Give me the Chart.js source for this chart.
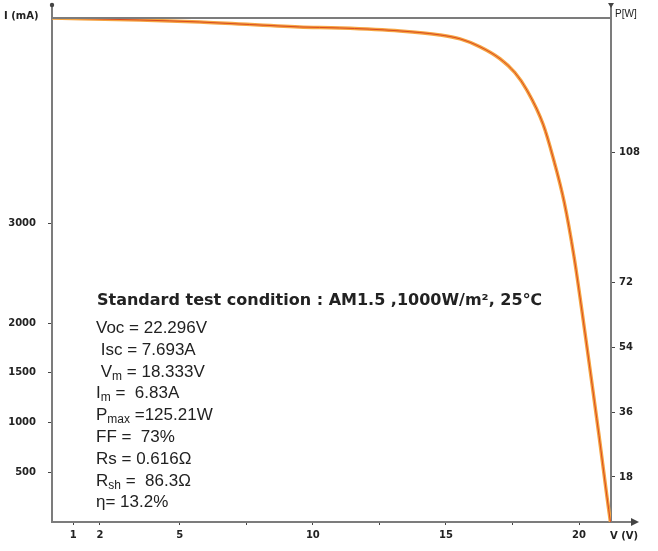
<!DOCTYPE html>
<html>
<head>
<meta charset="utf-8">
<script src="https://cdn.jsdelivr.net/npm/chart.js@4.4.1/dist/chart.umd.min.js"></script>
<style>
  html, body { margin: 0; padding: 0; background: #fff; }
  #wrap { width: 658px; height: 551px; }
</style>
</head>
<body>
<div id="wrap"><canvas id="ivChart" width="658" height="551"></canvas></div>
<script>
// I-V curve (voltage in V, current in mA)
const voltage = [0.2, 3.5, 5.75, 9.5, 11.0, 13.27, 14.77, 15.53, 16.28, 17.03, 17.59, 18.05, 18.65, 19.02, 19.44, 19.81, 20.11, 20.41, 20.75, 21.05, 21.18];
const current = [5070, 5050, 5030, 4980, 4970, 4940, 4900, 4860, 4780, 4660, 4520, 4340, 4000, 3670, 3220, 2670, 2120, 1540, 870, 250, 0];

const vTicks = [1, 2, 5, 7.5, 10, 12.5, 15, 17.5, 20];
const vLabels = ['1', '2', '5', '', '10', '', '15', '', '20'];
const iTicks = [500, 1000, 1500, 2000, 3000];
const pTicks = [18, 36, 54, 72, 108];

const specLines = [
  [['Voc = 22.296V']],
  [[' Isc = 7.693A']],
  [[' V'], ['m', 1], [' = 18.333V']],
  [['I'], ['m', 1], [' =  6.83A']],
  [['P'], ['max', 1], [' =125.21W']],
  [['FF =  73%']],
  [['Rs = 0.616Ω']],
  [['R'], ['sh', 1], [' =  86.3Ω']],
  [['η= 13.2%']]
];
const title = 'Standard test condition : AM1.5 ,1000W/m², 25℃';

const axisGray = '#7c7c7c';
const tickFont = { family: 'DejaVu Sans', size: 10, weight: 'bold' };

const decorPlugin = {
  id: 'decor',
  afterDraw(chart) {
    const { ctx, chartArea: a } = chart;
    ctx.save();
    ctx.strokeStyle = axisGray;
    ctx.fillStyle = axisGray;
    ctx.lineWidth = 2;
    // top frame line
    ctx.beginPath();
    ctx.moveTo(a.left, a.top); ctx.lineTo(a.right, a.top);
    // axis extensions
    ctx.moveTo(a.left, a.top); ctx.lineTo(a.left, 6);
    ctx.moveTo(a.right, a.top); ctx.lineTo(a.right, 6);
    ctx.moveTo(a.right, a.bottom); ctx.lineTo(632, a.bottom);
    ctx.stroke();
    ctx.fillStyle = '#444';
    ctx.beginPath(); ctx.arc(a.left, 5, 2.2, 0, Math.PI * 2); ctx.fill();
    ctx.beginPath();
    ctx.moveTo(a.right - 3, 3); ctx.lineTo(a.right + 3, 3); ctx.lineTo(a.right, 8); ctx.closePath(); ctx.fill();
    ctx.beginPath();
    ctx.moveTo(639, a.bottom); ctx.lineTo(631, a.bottom - 4); ctx.lineTo(631, a.bottom + 4); ctx.closePath(); ctx.fill();

    // axis names
    ctx.fillStyle = '#222';
    ctx.font = 'bold 10px "DejaVu Sans"';
    ctx.textBaseline = 'middle';
    ctx.textAlign = 'left';
    ctx.fillText('I (mA)', 4, 16);
    ctx.fillText('V (V)', 610, 536);
    ctx.font = '10px "Liberation Sans"';
    ctx.fillText('P[W]', a.right + 4, 14);

    // test condition text
    ctx.textBaseline = 'alphabetic';
    ctx.font = 'bold 16px "DejaVu Sans"';
    const w = ctx.measureText(title).width;
    const size = Math.min(18, 16 * 446 / w);
    ctx.font = 'bold ' + size.toFixed(1) + 'px "DejaVu Sans"';
    ctx.fillText(title, 97, 305);
    specLines.forEach((parts, i) => {
      let x = 96;
      const y = 333 + i * 21.8;
      parts.forEach(([t, sub]) => {
        ctx.font = sub ? '12px "Liberation Sans"' : '17px "Liberation Sans"';
        ctx.fillText(t, x, sub ? y + 3 : y);
        x += ctx.measureText(t).width;
      });
    });
    ctx.restore();
  }
};

new Chart(document.getElementById('ivChart'), {
  type: 'line',
  data: {
    datasets: [
      {
        data: voltage.map((v, i) => ({ x: v, y: current[i] })),
        borderColor: '#f5a442',
        borderWidth: 3.5,
        pointRadius: 0,
        cubicInterpolationMode: 'monotone',
        order: 2,
        xAxisID: 'x',
        yAxisID: 'y'
      },
      {
        data: voltage.map((v, i) => ({ x: v, y: current[i] })),
        borderColor: '#da4a20',
        borderWidth: 1,
        pointRadius: 0,
        cubicInterpolationMode: 'monotone',
        order: 1,
        xAxisID: 'x',
        yAxisID: 'y'
      }
    ]
  },
  options: {
    responsive: false,
    animation: false,
    layout: { padding: { top: 15, left: 0, right: 0, bottom: 0 } },
    plugins: { legend: { display: false }, tooltip: { enabled: false } },
    scales: {
      x: {
        type: 'linear',
        position: 'bottom',
        min: 0.2,
        max: 21.2,
        afterBuildTicks: s => { s.ticks = vTicks.map(v => ({ value: v })); },
        afterFit: s => { s.height = 29; },
        ticks: {
          autoSkip: false, maxRotation: 0, padding: 4, color: '#222', font: tickFont,
          callback: (v, i) => vLabels[i]
        },
        grid: { drawOnChartArea: false, tickLength: 3, color: '#444' },
        border: { color: axisGray, width: 2 }
      },
      y: {
        type: 'linear',
        position: 'left',
        min: 0,
        max: 5070,
        afterBuildTicks: s => { s.ticks = iTicks.map(v => ({ value: v })); },
        afterFit: s => { s.width = 52; },
        ticks: { padding: 12, color: '#222', font: tickFont, callback: v => String(v) },
        grid: { drawOnChartArea: false, tickLength: 4, color: '#444' },
        border: { color: axisGray, width: 2 }
      },
      p: {
        type: 'linear',
        position: 'right',
        min: 5.5,
        max: 145.4,
        afterBuildTicks: s => { s.ticks = pTicks.map(v => ({ value: v })); },
        afterFit: s => { s.width = 47; },
        ticks: { padding: 4, color: '#222', font: tickFont, callback: v => String(v) },
        grid: { drawOnChartArea: false, tickLength: 4, color: '#444' },
        border: { color: axisGray, width: 2 }
      }
    }
  },
  plugins: [decorPlugin]
});
</script>
</body>
</html>
